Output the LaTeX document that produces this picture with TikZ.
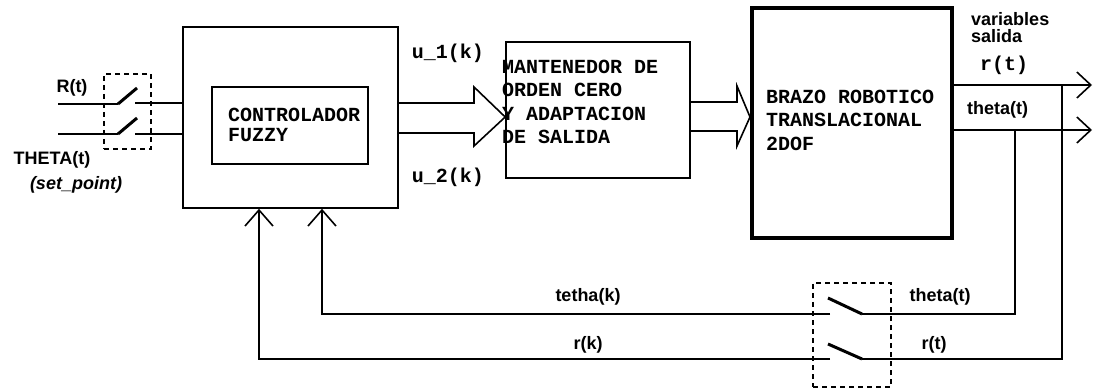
\documentclass[tikz,border=0pt]{standalone}
\usepackage{fontspec}
\setmainfont{Liberation Sans}
\newfontfamily\blockfont{Liberation Mono}
\usetikzlibrary{arrows.meta,calc}
\begin{document}
\begin{tikzpicture}[x=1pt,y=-1pt,
  ln/.style={line width=1.6pt},
  box/.style={draw, line width=1.6pt, inner sep=0pt},
  mono/.style={font=\blockfont\bfseries\fontsize{20}{23.5}\selectfont, align=left, inner sep=0pt},
  lab/.style={font=\bfseries\fontsize{18}{17}\selectfont, align=left, inner sep=0pt},
  dsh/.style={draw, dash pattern=on 5pt off 4pt, line width=1.4pt, inner sep=0pt},
  arr/.style={-{Straight Barb[length=14pt,width=26pt,line width=1.6pt]}},
  uparr/.style={-{Straight Barb[length=16pt,width=28pt,line width=1.6pt]}},
  blade/.style={line width=3pt}]
\useasboundingbox (0,0) rectangle (1098,390);

% blocks
\node[box, minimum width=215pt, minimum height=181pt] (ctrl) at (290.5,117.5) {};
\node[box, minimum width=156pt, minimum height=77pt] (fz) at (290,125.5) {};
\node[mono, font=\blockfont\bfseries\fontsize{20}{20}\selectfont, anchor=west] (fztxt) at (228,125) {CONTROLADOR\\FUZZY};
\node[box, minimum width=184pt, minimum height=136pt] (zoh) at (598,110) {};
\node[mono, anchor=west] (zohtxt) at (502,102) {MANTENEDOR DE\\ORDEN CERO\\Y ADAPTACION\\DE SALIDA};
\node[box, line width=4pt, minimum width=200pt, minimum height=230pt] (robot) at (852,123) {};
\node[mono, anchor=west] (robtxt) at (766,120) {BRAZO ROBOTICO\\TRANSLACIONAL\\2DOF};

% block arrows
\draw[ln] (ctrl.east |- 0,103) -- (474,103) -- (474,87) -- (zoh.west |- 0,117)
  -- (474,146) -- (474,133) -- (ctrl.east |- 0,133);
\draw[ln] (zoh.east |- 0,102) -- (737,102) -- (737,86) -- (robot.west |- 0,117)
  -- (737,146) -- (737,131) -- (zoh.east |- 0,131);

% outputs
\coordinate (rout) at (1092,85);
\coordinate (thout) at (1092,130);
\draw[ln,arr] (robot.east |- rout) -- (rout);
\draw[ln,arr] (robot.east |- thout) -- (thout);

% input switch
\node[dsh, minimum width=47pt, minimum height=75pt] (sw1) at (127.5,111.5) {};
\coordinate (in1) at (58,104);
\coordinate (in2) at (58,134);
\coordinate (c1a) at (118,104);
\coordinate (c1b) at (135,103);
\coordinate (c2a) at (118,134);
\coordinate (c2b) at (135,134);
\draw[ln] (in1) -- (c1a);
\draw[blade] (c1a) -- (137,88);
\draw[ln] (c1b) -- (ctrl.west |- c1b);
\draw[ln] (in2) -- (c2a);
\draw[blade] (c2a) -- (137,118);
\draw[ln] (c2b) -- (ctrl.west |- c2b);

% feedback switch
\node[dsh, minimum width=78pt, minimum height=104pt] (sw2) at (852,335) {};
\coordinate (thtap) at (1015,130);
\coordinate (rtap) at (1062,85);
\coordinate (s2a) at (862,314);
\coordinate (s2b) at (830,314);
\coordinate (s3a) at (862,359);
\coordinate (s3b) at (830,359);
\draw[ln] (thtap) |- (s2a);
\draw[blade] (s2a) -- (828,298);
\draw[ln,uparr] (s2b) -| ($(ctrl.south)+(31.5,0)$);
\draw[ln] (rtap) |- (s3a);
\draw[blade] (s3a) -- (828,344);
\draw[ln,uparr] (s3b) -| ($(ctrl.south)+(-31.5,0)$);

% labels
\node[lab] (lR) at (72,88) {R(t)};
\node[lab] (lTH) at (52,160) {THETA(t)};
\node[lab, font=\bfseries\itshape\fontsize{18}{17}\selectfont] (lsp) at (76,185) {(set\_point)};
\node[mono] (u1) at (448,53) {u\_1(k)};
\node[mono] (u2) at (448,177) {u\_2(k)};
\node[lab, anchor=west] (vs) at (971,28) {variables\\salida};
\node[mono] (rt) at (1004,65) {r(t)};
\node[lab, anchor=west] (tht) at (967,110) {theta(t)};
\node[lab] (tk) at (588,297) {tetha(k)};
\node[lab] (rk) at (588,345) {r(k)};
\node[lab] (tht2) at (940,297) {theta(t)};
\node[lab] (rt2) at (934,345) {r(t)};
\end{tikzpicture}
\end{document}
